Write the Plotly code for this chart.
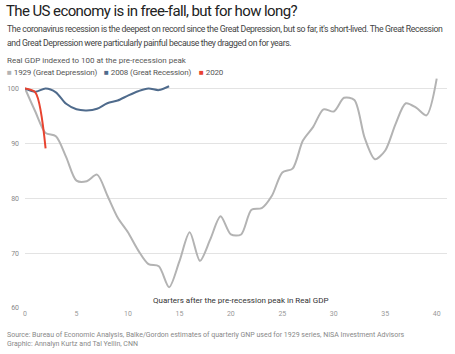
import plotly.graph_objects as go

quarters_1929 = list(range(0, 41))
gdp_1929 = [100, 95.8, 91.9, 91.3, 87.5, 83.2, 83.1, 84.3, 80.5, 76.5,
            73.8, 70.5, 68.0, 67.6, 63.8, 68.5, 73.8, 68.6, 72.5, 76.7,
            73.4, 73.4, 77.9, 78.2, 80.5, 84.7, 85.4, 90.5, 93.0, 96.2,
            95.8, 98.3, 97.9, 91.0, 87.1, 88.7, 93.5, 97.3, 96.5, 95.1, 101.8]
quarters_2008 = list(range(0, 15))
gdp_2008 = [100, 99.4, 100.0, 99.3, 97.2, 96.2, 96.0, 96.3, 97.3, 97.8,
            98.7, 99.5, 100.0, 99.7, 100.4]
quarters_2020 = [0, 1, 2]
gdp_2020 = [100, 99.3, 89.1]

names = ["1929 (Great Depression)", "2008 (Great Recession)", "2020"]
colors = ["#b3b3b3", "#4f6b8c", "#e8432f"]

FONT = "Roboto, sans-serif"

fig = go.Figure()
series = [(quarters_1929, gdp_1929), (quarters_2008, gdp_2008), (quarters_2020, gdp_2020)]
for (xs, ys), c in zip(series, colors):
    fig.add_trace(go.Scatter(x=xs, y=ys, mode="lines",
                             line=dict(color=c, width=2, shape="spline", smoothing=0.8),
                             showlegend=False, hoverinfo="skip"))

H_PLOT = 236.5
def py(p):
    return (308 - p) / H_PLOT

def px(p):
    return (p - 25) / 422

def ls(text, sp):
    return '<span style="letter-spacing:%spx">%s</span>' % (sp, text)

anns = [
    dict(text=ls("The US economy is in free-fall, but for how long?", -0.6), x=px(4), y=py(10.5),
         font=dict(size=15, color="#222222")),
    dict(text=ls("The coronavirus recession is the deepest on record since the Great Depression, but so far, it's short-lived. The Great Recession", -0.38),
         x=px(5), y=py(28.5), font=dict(size=8.7, color="#444444")),
    dict(text=ls("and Great Depression were particularly painful because they dragged on for years.", -0.38),
         x=px(5), y=py(42.5), font=dict(size=8.7, color="#444444")),
    dict(text="Real GDP indexed to 100 at the pre-recession peak", x=px(5), y=py(60),
         font=dict(size=8, color="#555555")),
    dict(text="Quarters after the pre-recession peak in Real GDP", x=px(151), y=py(300),
         font=dict(size=8, color="#333333")),
    dict(text="Source: Bureau of Economic Analysis, Balke/Gordon estimates of quarterly GNP used for 1929 series, NISA Investment Advisors",
         x=px(5), y=py(335.5), font=dict(size=7, color="#888888")),
    dict(text="Graphic: Annalyn Kurtz and Tal Yellin, CNN", x=px(5), y=py(344.5),
         font=dict(size=7, color="#888888")),
]
legend_x = [5, 102, 197]
for n, c, lx in zip(names, colors, legend_x):
    anns.append(dict(text='<span style="color:%s">■</span> %s' % (c, ls(n, -0.15)), x=px(lx), y=py(72.5),
                     font=dict(size=8, color="#555555")))

for a in anns:
    fig.add_annotation(xref="paper", yref="paper", xanchor="left", yanchor="middle",
                       showarrow=False, **a)

fig.update_layout(
    width=455, height=354,
    margin=dict(l=25, r=8, t=71.5, b=46),
    paper_bgcolor="white", plot_bgcolor="white",
    font=dict(family=FONT, color="#888888"),
    showlegend=False,
    xaxis=dict(range=[0, 41], tickvals=[0, 5, 10, 15, 20, 25, 30, 35, 40], showgrid=False,
               zeroline=False, showline=False, ticks="", tickfont=dict(size=7, color="#999999")),
    yaxis=dict(range=[60, 103], tickvals=[60, 70, 80, 90, 100], showgrid=True,
               gridcolor="#e3e3e3", gridwidth=1, zeroline=False, showline=False, ticks="",
               ticklabelstandoff=5, tickfont=dict(size=7, color="#888888")),
)

fig.write_html("out.html")
